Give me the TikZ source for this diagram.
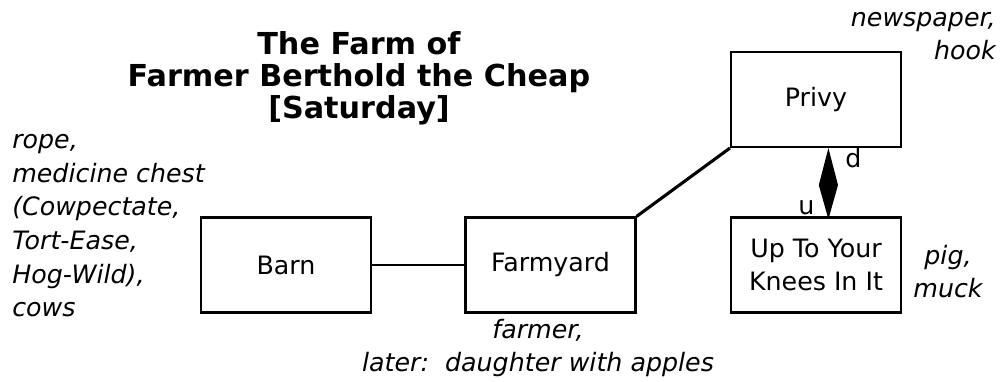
\documentclass[tikz,border=0pt]{standalone}
\usepackage{fontspec}
\setmainfont{DejaVu Sans}
\newcommand{\roomfont}{\fontsize{18}{24}\selectfont}
\newcommand{\notefont}{\fontsize{18}{24}\selectfont\itshape}
\newcommand{\headfont}{\fontsize{21.5}{23}\selectfont\bfseries}
\usetikzlibrary{calc}
\tikzset{
  room/.style={draw=black, line width=1.5pt, minimum width=4.25cm,
    minimum height=2.375cm, align=center, font=\roomfont},
  note/.style={inner sep=0pt, font=\notefont},
}

\begin{document}
\begin{tikzpicture}

  \useasboundingbox (0, 0) rectangle (25.025, 9.525);

  % title
  \node[inner sep=0pt, align=center, font=\headfont, anchor=base] (title) at (8.975, 6.55)
    {The Farm of\\Farmer Berthold the Cheap\\{}[Saturday]};

  % rooms
  \node[room] (barn) at (7.15, 2.9) {Barn};
  \node[room] (farmyard) at (13.7625, 2.9) {Farmyard};
  \node[room] (privy) at (20.4, 7.0375) {Privy};
  \node[room] (knees) at (20.4, 2.9) {Up To Your\\Knees In It};

  % contents
  \node[note, align=left, anchor=base west] (barnstuff) at (0.3, 1.6)
    {rope,\\medicine chest\\(Cowpectate,\\Tort-Ease,\\Hog-Wild),\\cows};
  \node[note, align=center, anchor=base] (yardstuff) at (13.45, 0.225)
    {farmer,\\later:\ \ daughter with apples};
  \node[note, align=right, anchor=base east] (privystuff) at (24.9, 8.025)
    {newspaper,\\hook};
  \node[note, align=center, anchor=base] (kneesstuff) at (23.7, 2.075)
    {pig,\\muck};

  % passages
  \draw[line width=1.4pt] (barn) -- (farmyard);
  \draw[line width=2.2pt] (farmyard.north east) -- (privy.south west);

  \coordinate (dtop) at ($(privy.south)+(0.31, 0)$);
  \coordinate (dbot) at ($(knees.north)+(0.31, -0.07)$);
  \fill (dtop) -- ($(dtop)!0.52!(dbot)+(0.24, 0)$) -- (dbot)
    -- ($(dtop)!0.52!(dbot)+(-0.24, 0)$) -- cycle;

  \node[inner sep=0pt, font=\roomfont, anchor=base west] (down) at (21.125, 5.325) {d};
  \node[inner sep=0pt, font=\roomfont, anchor=base west] (up) at (19.95, 4.15) {u};

\end{tikzpicture}
\end{document}
